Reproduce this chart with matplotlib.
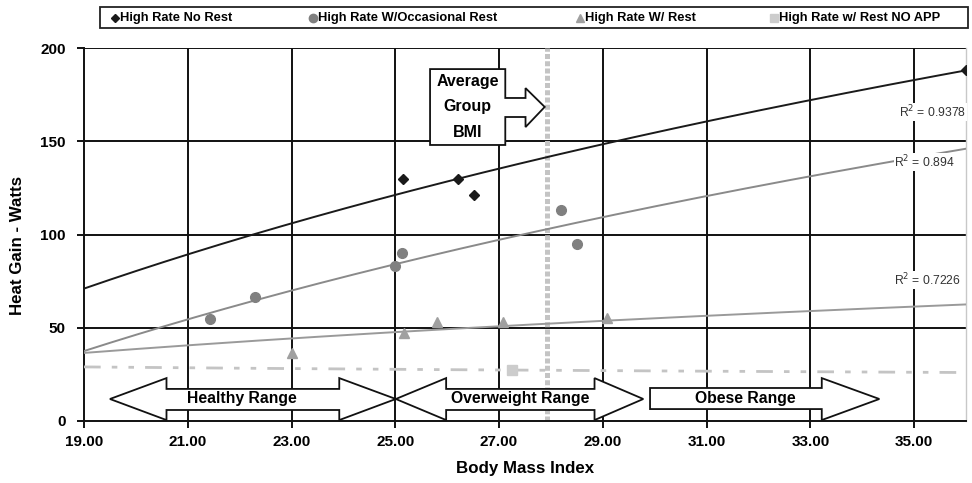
import numpy as np
import matplotlib
matplotlib.use("Agg")
import matplotlib.pyplot as plt
from matplotlib.patches import Polygon, Rectangle
from matplotlib.lines import Line2D

plt.rcParams['font.family'] = ['Liberation Sans', 'DejaVu Sans']

# data
bmi_no_rest = [25.14, 26.21, 26.52, 36.0]
heat_no_rest = [130, 130, 121, 188]
bmi_occ_rest = [21.42, 22.3, 25.0, 25.12, 28.2, 28.5]
heat_occ_rest = [54.7, 66.5, 83, 90, 113, 95]
bmi_rest = [23.0, 25.16, 25.8, 27.08, 29.08]
heat_rest = [36.5, 47, 53, 53, 55]
bmi_no_app = [27.24]
heat_no_app = [27.3]

# log trendlines, value at BMI 19 and BMI 36
trend_x = [19.0, 36.0]
trend_no_rest = [71, 188]
trend_occ_rest = [37.5, 146]
trend_rest = [36.5, 62.5]
trend_no_app = [29, 26]
r2_labels = ["0.9378", "0.894", "0.7226"]

avg_bmi = 27.93

series_names = ["High Rate No Rest", "High Rate W/Occasional Rest",
                "High Rate W/ Rest", "High Rate w/ Rest NO APP"]

W, H = 972, 483
fig = plt.figure(figsize=(W / 100, H / 100), dpi=100)
ax = fig.add_axes([84 / W, 1 - 421 / H, (966 - 84) / W, (421 - 48) / H])


def log_trend(ends):
    a = (ends[1] - ends[0]) / np.log(trend_x[1] / trend_x[0])
    xs = np.linspace(trend_x[0], trend_x[1], 200)
    return xs, ends[0] + a * np.log(xs / trend_x[0])


# grid
for xv in range(21, 37, 2):
    ax.axvline(xv, color='#111111', lw=1.4, zorder=1)
for yv in [50, 100, 150, 200]:
    ax.axhline(yv, color='#111111', lw=1.4, zorder=1)

# average BMI marker
ax.plot([avg_bmi, avg_bmi], [0, 200], color='#c4c4c4', lw=3.6,
        dashes=(1.0, 0.45), solid_capstyle='butt', dash_capstyle='butt', zorder=2)

# trendlines
xs, ys = log_trend(trend_no_rest)
ax.plot(xs, ys, color='#1a1a1a', lw=1.4, zorder=3)
xs, ys = log_trend(trend_occ_rest)
ax.plot(xs, ys, color='#8a8a8a', lw=1.4, zorder=3)
xs, ys = log_trend(trend_rest)
ax.plot(xs, ys, color='#9a9a9a', lw=1.4, zorder=3)
xs, ys = log_trend(trend_no_app)
ax.plot(xs, ys, color='#c4c4c4', lw=2, dashes=(6, 4, 2, 4, 2, 4), zorder=3)

# points
ax.plot(bmi_no_rest, heat_no_rest, 'D', color='#1a1a1a', ms=5.5, zorder=5)
ax.plot(bmi_occ_rest, heat_occ_rest, 'o', color='#808080', ms=7, zorder=5)
ax.plot(bmi_rest, heat_rest, '^', color='#a0a0a0', ms=7.5, zorder=5)
ax.plot(bmi_no_app, heat_no_app, 's', color='#cccccc', ms=7, zorder=5)

# R^2 labels
r2_pos = [(35.35, 165.7), (35.2, 139), (35.25, 75.6)]
for (px, py), r in zip(r2_pos, r2_labels):
    ax.text(px, py, "R$^2$ = " + r, fontsize=8.7, color='#333333',
            ha='center', va='center', zorder=6,
            bbox=dict(facecolor='white', edgecolor='none', pad=0.5))

# range arrows
healthy = [(19.50, 11.8), (20.59, 23), (20.59, 17.2), (23.92, 17.2), (23.92, 23),
           (25.01, 11.8), (23.92, 0.5), (23.92, 5.9), (20.59, 5.9), (20.59, 0.5)]
overweight = [(25.01, 11.8), (25.98, 23), (25.98, 17.2), (28.84, 17.2), (28.84, 23),
              (29.78, 11.8), (28.84, 0.5), (28.84, 5.9), (25.98, 5.9), (25.98, 0.5)]
obese = [(29.91, 17.7), (33.22, 17.7), (33.22, 23), (34.33, 11.8),
         (33.22, 0.5), (33.22, 6.4), (29.91, 6.4)]
for pts in [healthy, overweight, obese]:
    ax.add_patch(Polygon(pts, closed=True, facecolor='white',
                         edgecolor='#111111', lw=1.3, zorder=6))
ax.text(22.05, 11.8, "Healthy Range", fontsize=11.3, fontweight='bold',
        ha='center', va='center', zorder=7)
ax.text(27.41, 11.8, "Overweight Range", fontsize=11.3, fontweight='bold',
        ha='center', va='center', zorder=7)
ax.text(31.75, 11.8, "Obese Range", fontsize=11.3, fontweight='bold',
        ha='center', va='center', zorder=7)

# average group BMI callout
callout = [(25.67, 188.7), (27.12, 188.7), (27.12, 173.2), (27.51, 173.2),
           (27.51, 178.5), (27.88, 168.4), (27.51, 157.6), (27.51, 163),
           (27.12, 163), (27.12, 148), (25.67, 148)]
ax.add_patch(Polygon(callout, closed=True, facecolor='white',
                     edgecolor='#111111', lw=1.3, zorder=7))
ax.text(26.39, 168.4, "Average\nGroup\nBMI", fontsize=11.5, fontweight='bold',
        ha='center', va='center', linespacing=1.85, zorder=8)

ax.set_xlim(19, 36)
ax.set_ylim(0, 200)
ax.set_xticks(np.arange(19, 36, 2))
ax.set_xticklabels([f"{v:.2f}" for v in np.arange(19, 36, 2)])
ax.set_yticks([0, 50, 100, 150, 200])
ax.tick_params(axis='both', direction='out', length=5, width=1.4,
               labelsize=11, color='#111111')
ax.tick_params(axis='y', pad=8)
ax.tick_params(axis='x', pad=5)
for lab in ax.get_xticklabels() + ax.get_yticklabels():
    lab.set_fontweight('bold')

ax.spines['left'].set_linewidth(1.4)
ax.spines['left'].set_color('#111111')
ax.spines['bottom'].set_linewidth(1.4)
ax.spines['bottom'].set_color('#111111')
ax.spines['top'].set_visible(False)
ax.spines['right'].set_color('#c8c8c8')
ax.spines['right'].set_linewidth(1)

ax.set_xlabel("Body Mass Index", fontsize=12.2, fontweight='bold')
ax.set_ylabel("Heat Gain - Watts", fontsize=12.2, fontweight='bold')
ax.xaxis.set_label_coords(0.5, (421 - 468) / 373)
ax.xaxis.label.set_va('center')
ax.yaxis.set_label_coords((18 - 84) / 882, (421 - 245) / 373)
ax.yaxis.label.set_va('center')

# legend box across the top
fig.add_artist(Rectangle((100 / W, 1 - 28 / H), 868 / W, 21 / H,
                         transform=fig.transFigure, fill=False,
                         edgecolor='#222222', lw=1.3))
leg_markers = [('D', '#1a1a1a', 4.5), ('o', '#808080', 6),
               ('^', '#a0a0a0', 6), ('s', '#cccccc', 6)]
leg_x = [115, 313, 580, 774]
ly = 1 - 17.5 / H
for (m, c, s), lx, name in zip(leg_markers, leg_x, series_names):
    fig.add_artist(Line2D([lx / W], [ly], marker=m, color=c, ms=s,
                          transform=fig.transFigure))
    fig.text((lx + 5) / W, ly, name, fontsize=9.3, fontweight='bold',
             ha='left', va='center')

fig.savefig("out.png", dpi=100)
